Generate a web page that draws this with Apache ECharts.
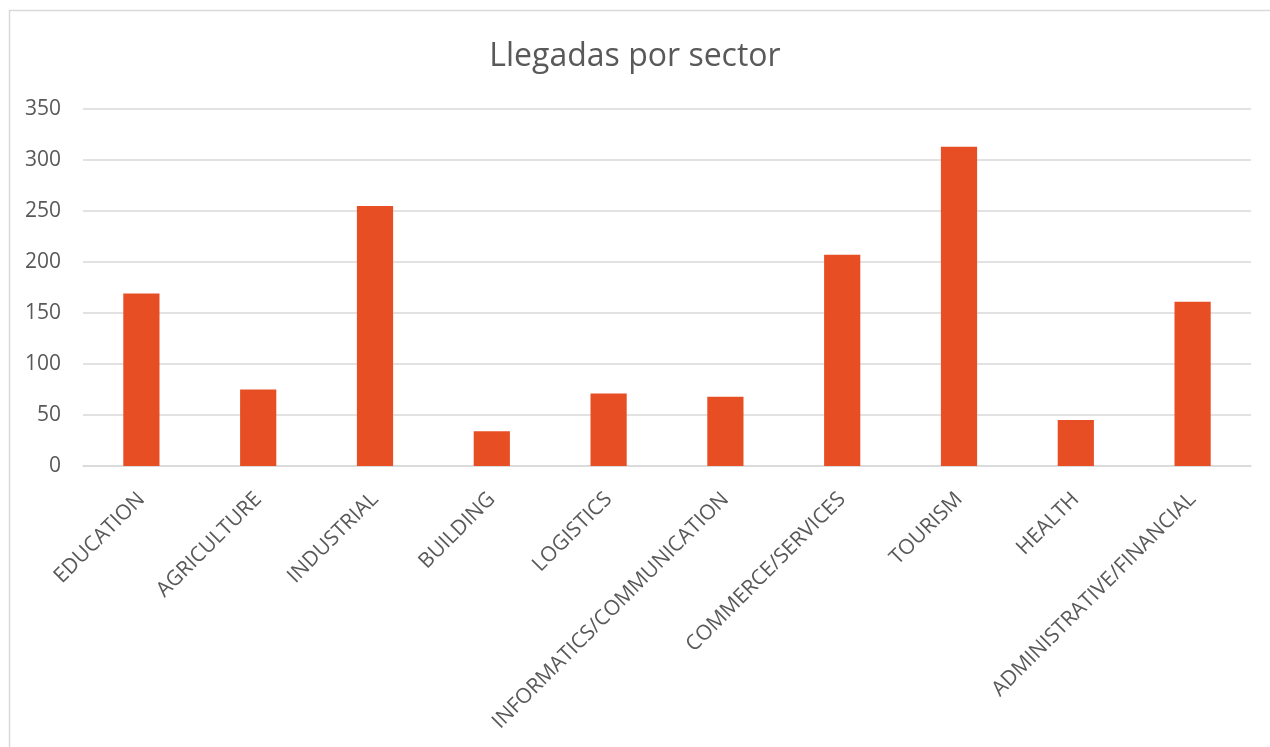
<!DOCTYPE html>
<html>
<head>
<meta charset="utf-8">
<script src="https://cdn.jsdelivr.net/npm/echarts@6/dist/echarts.min.js"></script>
<style>html,body{margin:0;padding:0;background:#fff;}#c{width:1270px;height:747px;}</style>
</head>
<body>
<div id="c"></div>
<script>
const categories = ['EDUCATION','AGRICULTURE','INDUSTRIAL','BUILDING','LOGISTICS','INFORMATICS/COMMUNICATION','COMMERCE/SERVICES','TOURISM','HEALTH','ADMINISTRATIVE/FINANCIAL'];
const values = [169, 75, 255, 34, 71, 68, 207, 313, 45, 161];
const titleText = 'Llegadas por sector';

const chart = echarts.init(document.getElementById('c'), null, {renderer: 'canvas'});
const font = '"Open Sans", "Noto Sans", sans-serif';
chart.setOption({
  animation: false,
  backgroundColor: '#fff',
  graphic: [{
    type: 'rect', left: 7, top: 8, z: -1, silent: true,
    shape: {x: 0, y: 0, width: 1300, height: 800},
    style: {fill: 'none', stroke: '#D9D9D9', lineWidth: 1.5}
  }],
  title: {
    text: titleText, left: 'center', top: 36,
    textStyle: {fontFamily: font, fontSize: 32, fontWeight: 'normal', color: '#595959'}
  },
  grid: {left: 83, right: 19, top: 109, bottom: 281, containLabel: false},
  xAxis: {
    type: 'category', data: categories,
    axisLine: {lineStyle: {color: '#D9D9D9', width: 1.5}},
    axisTick: {show: false},
    axisLabel: {rotate: 45, interval: 0, margin: 30, color: '#595959', fontFamily: font, fontSize: 21}
  },
  yAxis: {
    type: 'value', min: 0, max: 350, interval: 50,
    axisLine: {show: false}, axisTick: {show: false},
    splitLine: {lineStyle: {color: '#D9D9D9', width: 1.5}},
    axisLabel: {margin: 22, color: '#595959', fontFamily: font, fontSize: 21}
  },
  series: [{
    type: 'bar', data: values, barWidth: '31%',
    itemStyle: {color: '#E84E24'}
  }]
});
</script>
</body>
</html>
